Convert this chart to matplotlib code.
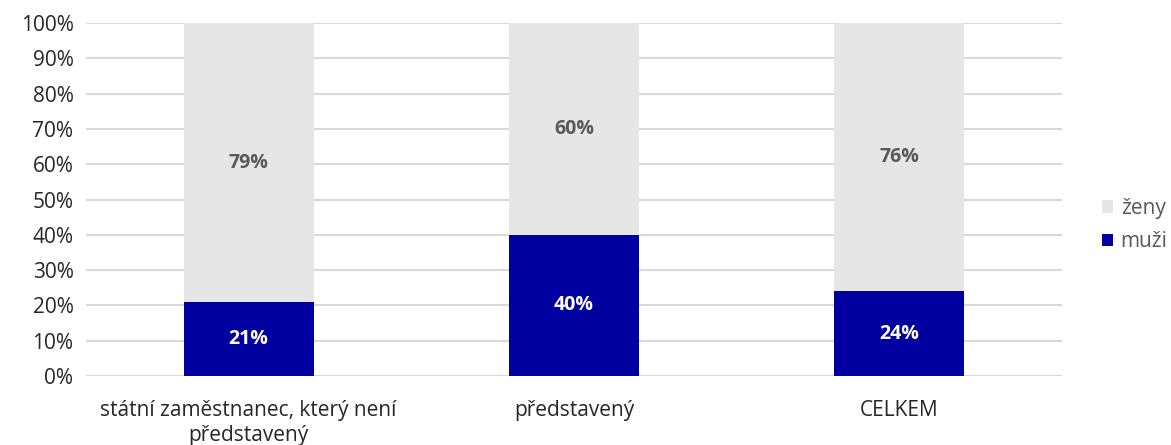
import matplotlib
matplotlib.use('Agg')
import matplotlib.pyplot as plt
from matplotlib.ticker import PercentFormatter

# Data
categories = ['státní zaměstnanec, který není\npředstavený', 'představený', 'CELKEM']
muzi = [21, 40, 24]
zeny = [79, 60, 76]

plt.rcParams['font.family'] = ['Open Sans', 'DejaVu Sans']

fig = plt.figure(figsize=(11.71, 4.45), dpi=100)
ax = fig.add_axes([0.0734, 0.155, 0.8336, 0.793])

x = range(len(categories))
b1 = ax.bar(x, muzi, width=0.4, color='#0000A0', label='muži', zorder=3)
b2 = ax.bar(x, zeny, width=0.4, bottom=muzi, color='#E7E6E6', label='ženy', zorder=3)

for i in x:
    ax.text(i, muzi[i] / 2, f'{muzi[i]}%', ha='center', va='center',
            color='white', fontsize=14, fontweight='bold', zorder=4)
    ax.text(i, muzi[i] + zeny[i] / 2, f'{zeny[i]}%', ha='center', va='center',
            color='#595959', fontsize=14, fontweight='bold', zorder=4)

ax.set_xlim(-0.5, 2.5)
ax.set_ylim(0, 100)
ax.set_yticks(range(0, 101, 10))
ax.yaxis.set_major_formatter(PercentFormatter(decimals=0))
ax.set_xticks(list(x))
ax.set_xticklabels(categories, multialignment='center', linespacing=1.25)
ax.tick_params(axis='both', length=0, labelsize=15, colors='#262626')
ax.tick_params(axis='x', pad=17)
ax.tick_params(axis='y', pad=9)
ax.grid(axis='y', color='#D9D9D9', linewidth=1.5, zorder=0)
for s in ax.spines.values():
    s.set_visible(False)

handles = [b2, b1]
fig.legend(handles, ['ženy', 'muži'], loc='center left', bbox_to_anchor=(0.941, 0.494),
           frameon=False, fontsize=15, handlelength=0.55, handleheight=0.55,
           handletextpad=0.35, labelspacing=0.6, labelcolor='#595959',
           borderaxespad=0, borderpad=0)

fig.savefig('out.png', dpi=100)
